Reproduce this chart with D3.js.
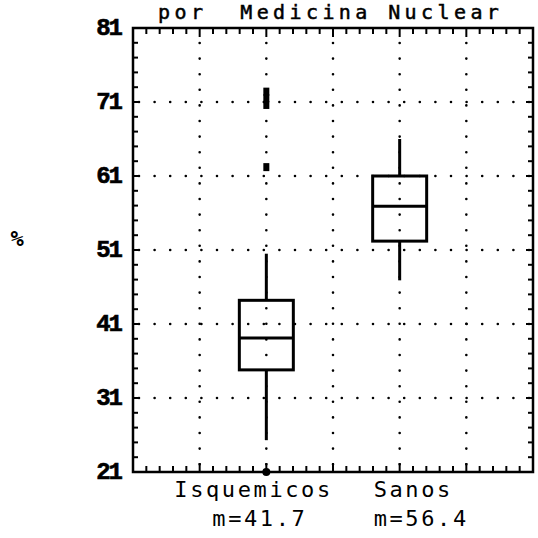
<!DOCTYPE html>
<html>
<head>
<meta charset="utf-8">
<script src="https://cdn.jsdelivr.net/npm/d3@7"></script>
<style>
  html, body { margin: 0; padding: 0; background: #fff; }
  svg { display: block; }
</style>
</head>
<body>
<svg id="chart" width="538" height="538"></svg>
<script>
// Fracción de eyección (%) por Medicina Nuclear — box plots by group
const categories = ["Isquemicos", "Sanos"];
const whiskerLow  = [25.3, 46.9];
const q1          = [34.8, 52.2];
const medians     = [39.1, 56.9];
const q3          = [44.2, 61.0];
const whiskerHigh = [50.5, 66.0];
const means       = [41.7, 56.4];
const outliers    = [[72.4, 71.5, 70.6, 62.2], []];
const minPoints   = [[21], []];
const yTicks      = [21, 31, 41, 51, 61, 71, 81];
const titleText   = "por  Medicina Nuclear";
const yLabel      = "%";

(function () {
const svg = d3.select("#chart");
const plotL = 133, plotR = 533, plotT = 28, plotB = 472;

const y = d3.scaleLinear().domain([21, 81]).range([plotB, plotT]);
// horizontal axis split into 6 major intervals; groups sit on slots 2 and 4
const x = d3.scaleLinear().domain([0, 6]).range([plotL, plotR]);
const slot = i => 2 + 2 * i;

const ink = "#000";

// dotted grid
const dot = g => g.attr("stroke", ink).attr("stroke-width", 2.6)
  .attr("stroke-linecap", "round").attr("stroke-dasharray", "0 15.6");

const grid = svg.append("g");
yTicks.filter(t => t > 21 && t < 81).forEach(t => {
  grid.append("line").attr("x1", plotL + 6).attr("x2", plotR)
    .attr("y1", y(t)).attr("y2", y(t)).call(dot);
});
d3.range(1, 6).forEach(k => {
  grid.append("line").attr("x1", x(k)).attr("x2", x(k))
    .attr("y1", plotT + 15).attr("y2", plotB).call(dot);
});

// frame
svg.append("rect").attr("x", plotL).attr("y", plotT)
  .attr("width", plotR - plotL).attr("height", plotB - plotT)
  .attr("fill", "none").attr("stroke", ink).attr("stroke-width", 2.5);

// inward ticks on all four sides
const ticks = svg.append("g").attr("stroke", ink).attr("stroke-width", 2);
d3.range(21, 81.01, 2).forEach(v => {
  const major = (v - 21) % 10 === 0;
  const len = major ? 7 : 5;
  ticks.append("line").attr("x1", plotL).attr("x2", plotL + len).attr("y1", y(v)).attr("y2", y(v));
  ticks.append("line").attr("x1", plotR).attr("x2", plotR - len).attr("y1", y(v)).attr("y2", y(v));
});
d3.range(0, 6.001, 0.2).forEach(v => {
  const major = Math.abs(v - Math.round(v)) < 1e-6;
  const len = major ? 9 : 6;
  ticks.append("line").attr("x1", x(v)).attr("x2", x(v)).attr("y1", plotT).attr("y2", plotT + len);
  ticks.append("line").attr("x1", x(v)).attr("x2", x(v)).attr("y1", plotB).attr("y2", plotB - len);
});

// y tick labels
svg.append("g").selectAll("text").data(yTicks).join("text")
  .attr("x", plotL - 12).attr("y", d => y(d) + 7)
  .attr("text-anchor", "end")
  .attr("font-family", "Liberation Mono, DejaVu Sans Mono, monospace")
  .attr("font-weight", "bold").attr("font-size", 24)
  .attr("letter-spacing", -2)
  .attr("stroke", ink).attr("stroke-width", 0.6)
  .attr("fill", ink).text(d => d);

// y axis label
svg.append("text").attr("x", 17).attr("y", 246)
  .attr("text-anchor", "middle")
  .attr("font-family", "DejaVu Sans Mono, monospace")
  .attr("font-weight", "bold").attr("font-style", "italic").attr("font-size", 22)
  .attr("fill", ink).text(yLabel);

// title (second line visible at top)
svg.append("text").attr("x", 158).attr("y", 19)
  .style("white-space", "pre")
  .attr("font-family", "DejaVu Sans Mono, monospace")
  .attr("font-size", 20).attr("letter-spacing", 4.4)
  .attr("stroke", ink).attr("stroke-width", 0.5)
  .attr("fill", ink).text(titleText);

// box plots
const halfW = 27;
const boxes = svg.append("g").attr("stroke", ink).attr("stroke-width", 3).attr("fill", "none");
categories.forEach((c, i) => {
  const cx = x(slot(i));
  boxes.append("line").attr("x1", cx).attr("x2", cx).attr("y1", y(whiskerLow[i])).attr("y2", y(q1[i]));
  boxes.append("line").attr("x1", cx).attr("x2", cx).attr("y1", y(q3[i])).attr("y2", y(whiskerHigh[i]));
  boxes.append("rect").attr("x", cx - halfW).attr("y", y(q3[i]))
    .attr("width", 2 * halfW).attr("height", y(q1[i]) - y(q3[i]));
  boxes.append("line").attr("x1", cx - halfW).attr("x2", cx + halfW)
    .attr("y1", y(medians[i])).attr("y2", y(medians[i]));

  outliers[i].forEach(v => {
    svg.append("rect").attr("x", cx - 3).attr("y", y(v) - 4)
      .attr("width", 6).attr("height", 8).attr("fill", ink);
  });
  minPoints[i].forEach(v => {
    svg.append("circle").attr("cx", cx).attr("cy", y(v)).attr("r", 4).attr("fill", ink);
  });
});

// category labels and means
const labelFont = "DejaVu Sans Mono, monospace";
const nameShift = [-92, -26];
const meanShift = [-54, -26];
categories.forEach((c, i) => {
  const cx = x(slot(i));
  svg.append("text").attr("x", cx + nameShift[i]).attr("y", 497)
    .attr("font-family", labelFont).attr("font-size", 22).attr("letter-spacing", 2.6)
    .attr("fill", ink).text(c);
  svg.append("text").attr("x", cx + meanShift[i]).attr("y", 526)
    .attr("font-family", labelFont).attr("font-size", 22).attr("letter-spacing", 2.6)
    .attr("fill", ink).text("m=" + means[i].toFixed(1));
});
})();
</script>
</body>
</html>
